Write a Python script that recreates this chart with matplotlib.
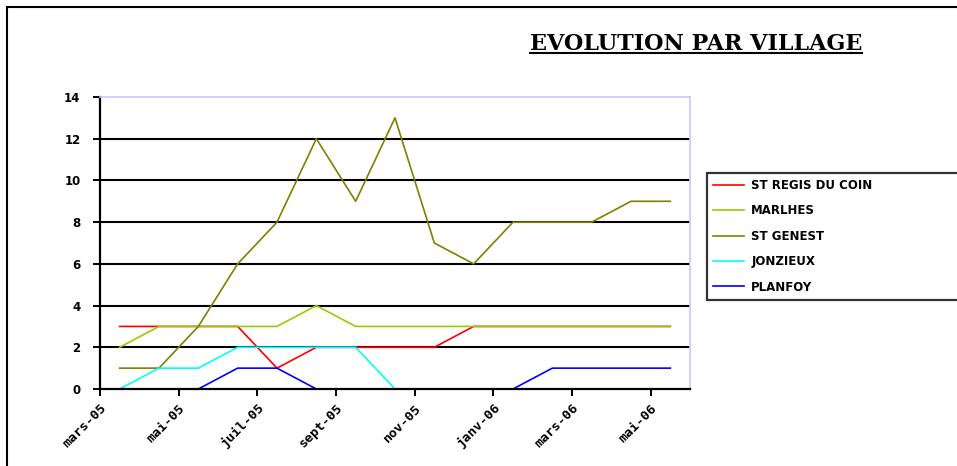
import matplotlib
matplotlib.use("Agg")
import matplotlib.pyplot as plt
from matplotlib.patches import Rectangle
from matplotlib.lines import Line2D
import numpy as np

# données mensuelles mars-05 -> mai-06
mois = ['mars-05', 'avr-05', 'mai-05', 'juin-05', 'juil-05', 'août-05', 'sept-05',
        'oct-05', 'nov-05', 'déc-05', 'janv-06', 'févr-06', 'mars-06', 'avr-06', 'mai-06']

st_regis = [3, 3, 3, 3, 1, 2, 2, 2, 2, 3, 3, 3, 3, 3, 3]
marlhes = [2, 3, 3, 3, 3, 4, 3, 3, 3, 3, 3, 3, 3, 3, 3]
st_genest = [1, 1, 3, 6, 8, 12, 9, 13, 7, 6, 8, 8, 8, 9, 9]
jonzieux = [0, 1, 1, 2, 2, 2, 2, 0, 0, 0, 0, 0, 0, 0, 0]
planfoy = [0, 0, 0, 1, 1, 0, 0, 0, 0, 0, 0, 1, 1, 1, 1]

series = [
    ('ST REGIS DU COIN', st_regis, '#ff0000'),
    ('MARLHES', marlhes, '#99cc00'),
    ('ST GENEST', st_genest, '#808000'),
    ('JONZIEUX', jonzieux, '#00ffff'),
    ('PLANFOY', planfoy, '#0000ff'),
]

W, H = 957, 466
fig = plt.figure(figsize=(W / 100, H / 100), dpi=100)
ax = fig.add_axes([100 / W, 77 / H, 590 / W, 292 / H])

x = np.arange(len(mois))
for nom, vals, couleur in series:
    ax.plot(x, vals, color=couleur, lw=1.2, label=nom, zorder=2)

ax.set_xlim(-0.5, len(mois) - 0.5)
ax.set_ylim(0, 14)
ax.set_yticks(range(0, 15, 2))
ax.set_xticks(np.arange(-0.5, len(mois) - 0.5, 2))
ax.set_xticklabels(mois[::2], rotation=45, ha='right', rotation_mode='anchor',
                   fontsize=9.5, fontweight='bold', family='DejaVu Sans Mono')
for lab in ax.get_yticklabels():
    lab.set_fontsize(8.5)
    lab.set_fontweight('bold')

ax.yaxis.grid(True, color='black', lw=1.5, zorder=1)
gl = ax.get_ygridlines()
gl[0].set_visible(False)
gl[-1].set_visible(False)
ax.set_axisbelow(True)

ax.spines['left'].set_color('black')
ax.spines['left'].set_linewidth(1.6)
ax.spines['bottom'].set_color('black')
ax.spines['bottom'].set_linewidth(1.6)
for s in ['top', 'right']:
    ax.spines[s].set_color('#c8c8ff')
    ax.spines[s].set_linewidth(1.2)
for s in ax.spines.values():
    s.set_zorder(3)

ax.tick_params(axis='y', direction='out', length=5, width=1.4, pad=9)
ax.tick_params(axis='x', direction='out', length=5, width=1.4, pad=4)

leg = fig.legend(loc='upper left', bbox_to_anchor=(707 / W, 1 - 173 / H, 260 / W, 0.001),
                 mode='expand', fontsize=8.5, frameon=True, fancybox=False,
                 edgecolor='black', handlelength=2.6, handletextpad=0.6,
                 labelspacing=1.05, borderpad=0.55, borderaxespad=0)
leg.get_frame().set_linewidth(1.6)
for t in leg.get_texts():
    t.set_fontweight('bold')

titre = fig.text(530 / W, 1 - 50 / H, 'EVOLUTION PAR VILLAGE', fontsize=16,
                 fontweight='bold', family='DejaVu Serif', ha='left', va='baseline')
fig.canvas.draw()
bb = titre.get_window_extent().transformed(fig.transFigure.inverted())
fig.add_artist(Line2D([bb.x0, bb.x1], [1 - 53 / H, 1 - 53 / H], color='black', lw=1.5))

fig.add_artist(Rectangle((7 / W, -0.1), 1.2, 1.1 - 7 / H, transform=fig.transFigure,
                         fill=False, edgecolor='black', lw=1.5))

fig.savefig('out.png', dpi=100)
